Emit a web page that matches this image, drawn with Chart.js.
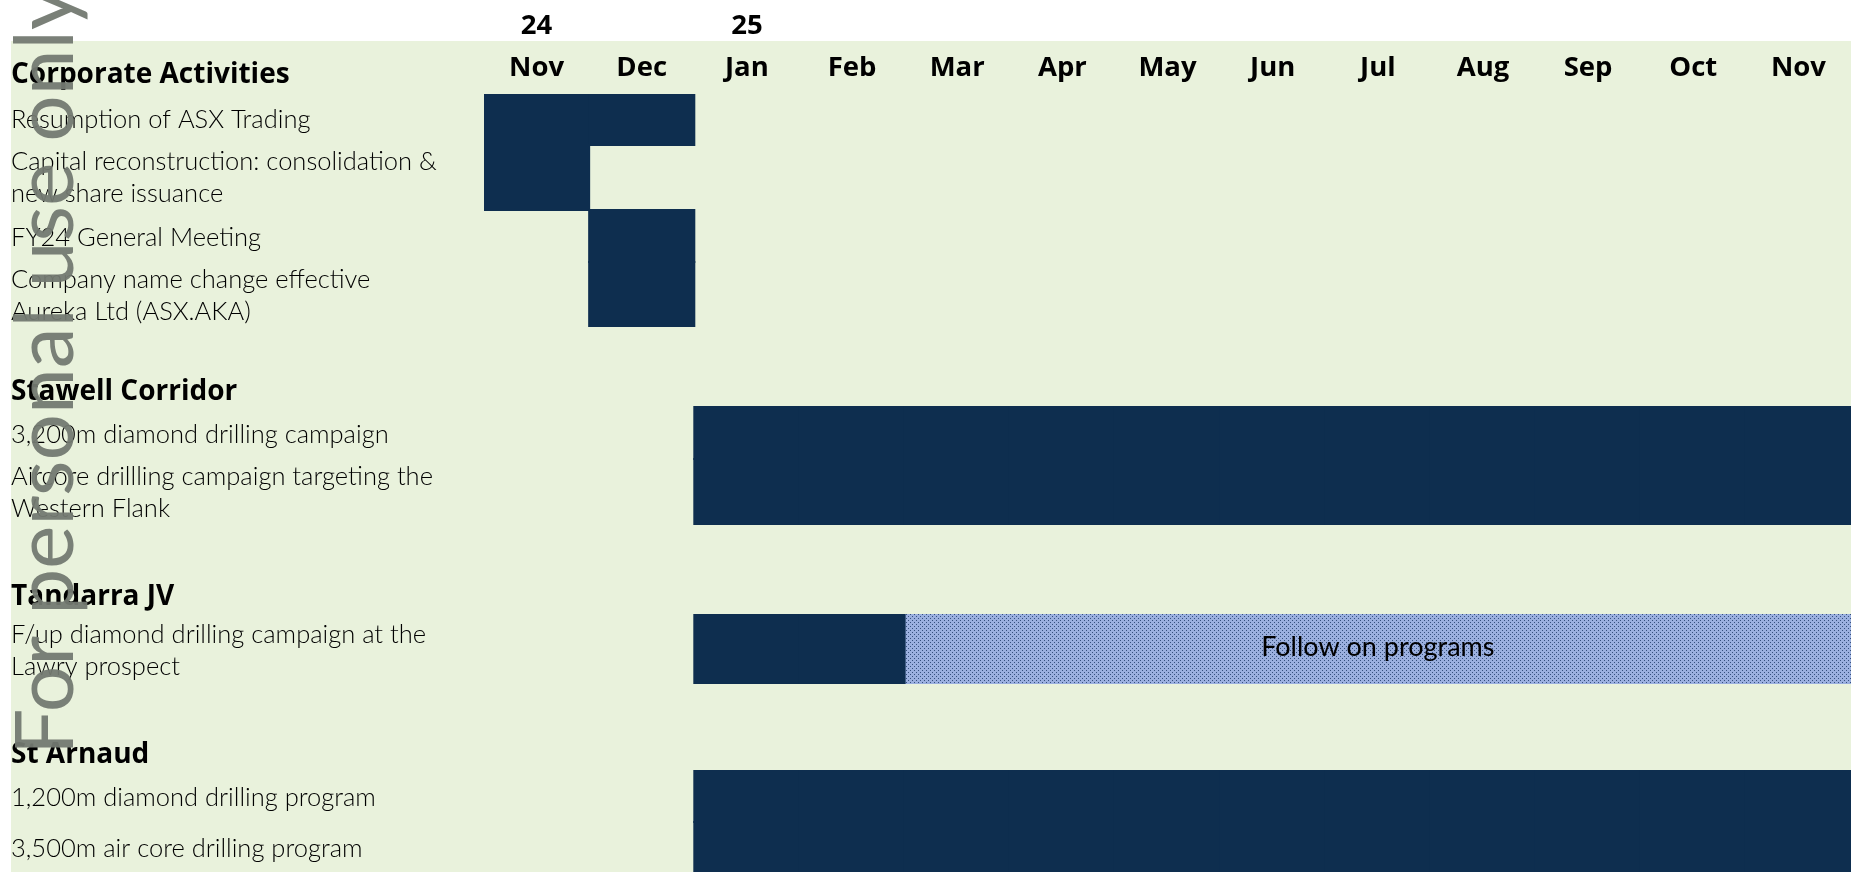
<!DOCTYPE html>
<html>
<head>
<meta charset="utf-8">
<title>Activities timeline</title>
<script src="https://cdn.jsdelivr.net/npm/chart.js@4.4.1/dist/chart.umd.min.js"></script>
<style>
  html, body { margin: 0; padding: 0; background: #fff; }
  #wrap { width: 1854px; height: 874px; }
</style>
</head>
<body>
<div id="wrap"><canvas id="timeline"></canvas></div>
<script>
// ---- data ----
const columns = ['Nov 24', 'Dec 24', 'Jan 25', 'Feb 25', 'Mar 25', 'Apr 25', 'May 25', 'Jun 25', 'Jul 25', 'Aug 25', 'Sep 25', 'Oct 25', 'Nov 25'];
const monthLabels = ['Nov', 'Dec', 'Jan', 'Feb', 'Mar', 'Apr', 'May', 'Jun', 'Jul', 'Aug', 'Sep', 'Oct', 'Nov'];
const yearLabels = ['24', '', '25', '', '', '', '', '', '', '', '', '', ''];

const rowLabels = [
  'Corporate Activities',
  'Resumption of ASX Trading',
  ['Capital reconstruction: consolidation &', 'new share issuance'],
  'FY24 General Meeting',
  ['Company name change effective', 'Aureka Ltd (ASX.AKA)'],
  '',
  'Stawell Corridor',
  '3,200m diamond drilling campaign',
  ['Aircore drillling campaign targeting the', 'Western Flank'],
  '',
  'Tandarra JV',
  ['F/up diamond drilling campaign at the', 'Lawry prospect'],
  '',
  'St Arnaud',
  '1,200m diamond drilling program',
  '3,500m air core drilling program'
];
const headerRows = [0, 6, 10, 13];

// one entry per bar: row index, first month, last month, kind
const taskRow = [1, 2, 3, 4, 7, 8, 11, 11, 14, 15];
const taskStart = ['Nov 24', 'Nov 24', 'Dec 24', 'Dec 24', 'Jan 25', 'Jan 25', 'Jan 25', 'Mar 25', 'Jan 25', 'Jan 25'];
const taskEnd = ['Dec 24', 'Nov 24', 'Dec 24', 'Dec 24', 'Nov 25', 'Nov 25', 'Feb 25', 'Nov 25', 'Nov 25', 'Nov 25'];
const taskKind = ['firm', 'firm', 'firm', 'firm', 'firm', 'firm', 'firm', 'follow', 'firm', 'firm'];
const followText = 'Follow on programs';

// ---- layout (row heights as in the sheet) ----
const rowHeights = [53, 51, 65, 52, 64, 41, 40, 52, 65, 45, 46, 68, 46, 42, 51, 50];
const headH = rowHeights[0];
const rowTop = [];
let acc = -headH;
rowHeights.forEach(h => { rowTop.push(acc); acc += h; });
const yMax = acc;
// text sits a little low in its row, like the sheet's bottom aligned cells
function labelShift(i) {
  if (i === 0) return 7.5;              // first heading shares the month row
  if (headerRows.includes(i)) return 5;
  return i < 3 ? 0 : 1.5;
}
const labelPos = rowTop.map((t, i) => t + rowHeights[i] / 2 + labelShift(i));

const navy = '#0E2E4F';
const green = '#E9F2DC';

function dotPattern() {
  const c = document.createElement('canvas');
  c.width = 4; c.height = 4;
  const g = c.getContext('2d');
  g.fillStyle = '#9BB0DF';
  g.fillRect(0, 0, 4, 4);
  g.fillStyle = '#35507E';
  g.fillRect(0, 0, 1, 1);
  g.fillRect(2, 2, 1, 1);
  return g.createPattern(c, 'repeat');
}

function barsOf(kind) {
  const out = [];
  taskRow.forEach((r, t) => {
    if (taskKind[t] !== kind) return;
    const a = columns.indexOf(taskStart[t]);
    const b = columns.indexOf(taskEnd[t]);
    for (let c = a; c <= b; c++) {
      out.push({ x: columns[c], y: [rowTop[r], rowTop[r] + rowHeights[r]] });
    }
  });
  return out;
}

const lightFont = { family: 'Lato', weight: '300', size: 25.5, lineHeight: 1.25 };
const boldFont = { family: 'Open Sans', weight: 'bold', size: 27.5, lineHeight: 1.2 };
const headFont = { family: 'Open Sans', weight: 'bold', size: 28, lineHeight: 1.2 };

const sheetBackground = {
  id: 'sheetBackground',
  beforeDraw(chart) {
    const { ctx, chartArea, scales } = chart;
    ctx.save();
    ctx.fillStyle = green;
    ctx.fillRect(scales.y.left, scales.x.top, chartArea.right - scales.y.left, chartArea.bottom - scales.x.top);
    ctx.restore();
  }
};

const followLabel = {
  id: 'followLabel',
  afterDatasetsDraw(chart) {
    const meta = chart.getDatasetMeta(1);
    if (!meta.data.length) return;
    let l = Infinity, r = -Infinity, t = Infinity, b = -Infinity;
    meta.data.forEach(el => {
      l = Math.min(l, el.x - el.width / 2);
      r = Math.max(r, el.x + el.width / 2);
      t = Math.min(t, el.y, el.base);
      b = Math.max(b, el.y, el.base);
    });
    const ctx = chart.ctx;
    ctx.save();
    ctx.fillStyle = '#000';
    ctx.font = '400 27px Lato';
    ctx.textAlign = 'center';
    ctx.textBaseline = 'middle';
    ctx.fillText(followText, (l + r) / 2, (t + b) / 2 - 2);
    ctx.restore();
  }
};

const watermark = {
  id: 'watermark',
  afterDraw(chart) {
    const ctx = chart.ctx;
    ctx.save();
    ctx.translate(73, 755);
    ctx.rotate(-Math.PI / 2);
    ctx.fillStyle = 'rgba(115,121,113,0.95)';
    ctx.font = '400 82px Lato';
    ctx.textBaseline = 'alphabetic';
    ctx.fillText('For personal use only', 0, 0);
    ctx.restore();
  }
};

new Chart(document.getElementById('timeline'), {
  type: 'bar',
  data: {
    datasets: [
      { label: 'Scheduled', data: barsOf('firm'), backgroundColor: navy },
      { label: followText, data: barsOf('follow'), backgroundColor: dotPattern() }
    ]
  },
  options: {
    responsive: true,
    maintainAspectRatio: false,
    animation: false,
    grouped: false,
    barPercentage: 1,
    categoryPercentage: 1,
    borderWidth: 0,
    inflateAmount: 1,
    layout: { padding: { left: 11, right: 3, top: 0, bottom: 2 } },
    plugins: { legend: { display: false }, tooltip: { enabled: false } },
    scales: {
      x: {
        type: 'category',
        labels: columns,
        position: 'top',
        weight: 0,
        grid: { display: false, drawTicks: false },
        border: { display: false },
        afterFit: s => { s.height = headH; },
        ticks: {
          autoSkip: false, maxRotation: 0, padding: 9, color: '#000', font: boldFont,
          callback: (v, i) => monthLabels[i]
        }
      },
      year: {
        type: 'category',
        axis: 'x',
        labels: columns,
        position: 'top',
        weight: 10,
        grid: { display: false, drawTicks: false },
        border: { display: false },
        afterFit: s => { s.height = 41; },
        ticks: {
          autoSkip: false, maxRotation: 0, padding: -2, color: '#000', font: boldFont,
          callback: (v, i) => yearLabels[i]
        }
      },
      y: {
        type: 'linear',
        reverse: true,
        min: 0,
        max: yMax,
        grid: { display: false, drawTicks: false },
        border: { display: false },
        afterBuildTicks: s => { s.ticks = labelPos.map(v => ({ value: v })); },
        afterFit: s => {
          s.width = 484 - 11;
          s.paddingTop = 0;
          s.paddingBottom = 0;
        },
        ticks: {
          autoSkip: false, crossAlign: 'far', padding: 0, color: '#000',
          font: ctx => headerRows.includes(ctx.index) ? headFont : lightFont,
          callback: (v, i) => rowLabels[i]
        }
      }
    }
  },
  plugins: [sheetBackground, followLabel, watermark]
});
</script>
</body>
</html>
